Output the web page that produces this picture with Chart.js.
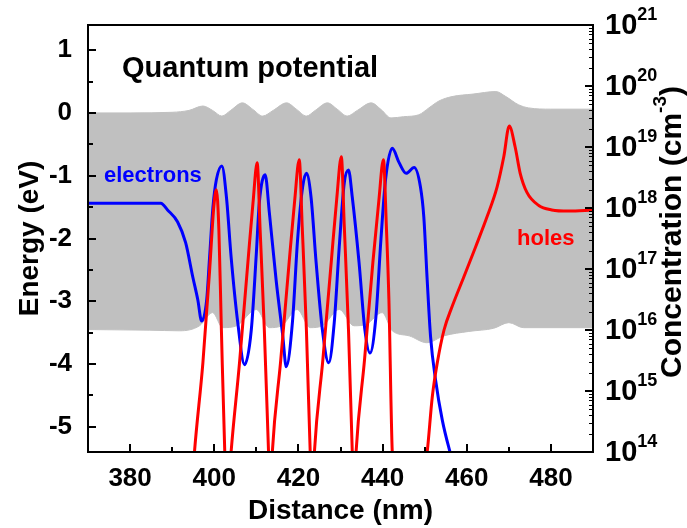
<!DOCTYPE html>
<html lang="en">
<head>
<meta charset="utf-8">
<title>Quantum potential</title>
<script src="https://cdn.jsdelivr.net/npm/chart.js@4.4.1/dist/chart.umd.min.js"></script>
<style>
  html, body { margin: 0; padding: 0; background: #fff; }
  #wrap { width: 687px; height: 528px; }
</style>
</head>
<body>
<div id="wrap"><canvas id="chart" width="687" height="528"></canvas></div>
<script>
// ---------------------------------------------------------------------------
//  Quantum potential band + electron / hole concentration (log, right axis)
// ---------------------------------------------------------------------------

// Gray band: upper and lower edge of the quantum potential (eV)
const bandTopX = [370, 380, 390, 394, 397.3, 399.6, 401.8, 403.9, 406.7, 409.1, 411.5, 414.0,
  417.2, 419.5, 421.9, 424.0, 426.9, 429.2, 431.6, 434.0, 437.3, 439.7, 442.0, 445.0, 448.6,
  451.0, 453.4, 456.5, 461.5, 466.9, 469.3, 472.3, 474.7, 480, 490];
const bandTop = [0.0, 0.0, 0.01, 0.04, 0.11, 0.04, -0.05, 0.04, 0.16, 0.06, -0.05, 0.04,
  0.16, 0.06, -0.05, 0.04, 0.16, 0.06, -0.05, 0.04, 0.16, 0.05, -0.08, -0.06, -0.03,
  0.08, 0.19, 0.26, 0.30, 0.34, 0.26, 0.13, 0.08, 0.06, 0.06];

const bandBotX = [370, 384.7, 391.8, 396.5, 399.6, 402.0, 405.3, 410.0, 413.1, 416.0, 419.7,
  422.8, 425.7, 429.7, 433.2, 436.3, 439.9, 442.3, 446.3, 450.5, 454.6, 460.5, 466.4, 470.0,
  473.5, 490];
const bandBot = [-3.45, -3.46, -3.47, -3.39, -3.18, -3.42, -3.39, -3.13, -3.42, -3.39, -3.13,
  -3.42, -3.39, -3.13, -3.39, -3.36, -3.18, -3.47, -3.55, -3.66, -3.55, -3.48, -3.43, -3.34,
  -3.42, -3.42];

// Electrons (cm^-3)
const electronsX = [370.0, 387.3, 388.9, 391.3, 393.2, 394.9, 396.1, 397.0, 398.2, 398.9,
  399.7, 400.5, 401.8, 402.9, 404.0, 405.6, 407.2, 408.8, 410.0, 410.7, 412.1, 413.1, 414.7,
  416.3, 417.1, 418.6, 419.8, 421.0, 421.9, 423.0, 424.2, 425.7, 427.2, 428.5, 429.7, 430.9,
  431.9, 432.8, 434.4, 435.8, 437.0, 438.4, 439.6, 440.7, 442.3, 443.9, 445.6, 447.5, 449.0,
  449.8, 450.6, 451.4, 452.6, 454.2, 456.1, 458.0];
const electrons = [1.2e18, 1.2e18, 9.3e17, 5.9e17, 2.7e17, 7.4e16, 3.1e16, 1.4e16, 3.1e16, 1.6e17,
  1.05e18, 2.9e18, 4.9e18, 1.5e18, 1.6e17, 1.3e16, 2.7e15, 1.0e16, 1.8e17, 1.2e18, 3.5e18, 8.3e17, 6.6e16,
  7.8e15, 2.5e15, 1.4e16, 3.0e17, 2.2e18, 3.7e18, 1.5e18, 1.3e17, 1.0e16, 2.9e15, 1.3e16, 2.3e17, 2.6e18,
  4.2e18, 1.5e18, 1.3e17, 1.0e16, 4.2e15, 1.6e16, 3.0e17, 2.9e18, 9.5e18, 5.6e18, 3.7e18, 4.6e18, 2.2e18,
  7.1e17, 6.6e16, 7.8e15, 1.5e15, 3.3e14, 9.5e13, 3.2e13];

// Holes (cm^-3)
const holesX = [394.3, 395.3, 397.3, 398.9, 399.9, 400.5, 401.1, 401.7, 402.5, 403.2,
  404.0, 406.0, 408.0, 409.2, 410.2, 410.9, 411.9, 412.9, 413.3,
  413.8, 415.8, 417.8, 419.1, 420.2, 420.9, 421.9, 422.8, 423.3,
  423.8, 425.8, 427.8, 429.1, 430.2, 430.9, 431.9, 432.8, 433.2,
  433.7, 435.7, 437.7, 439.1, 440.2, 440.9, 441.5, 442.3, 446.0,
  450.6, 451.8, 453.0, 454.6, 456.5, 459.3, 462.1, 464.8, 467.2, 468.8, 470.1, 471.5, 472.7,
  474.3, 477.1, 480.2, 484.2, 490.0];
const holes = [1e13, 1e14, 2.9e15, 9.5e16, 1.05e18, 2.0e18, 4.4e17, 1e16, 1e14, 1.6e13,
  1e14, 2.9e15, 1.3e17, 1.2e18, 5.5e18, 4.4e17, 1e16, 1e14, 1.6e13,
  1e14, 3.2e15, 1.3e17, 1.3e18, 6.2e18, 5.0e17, 1e16, 1e14, 1.6e13,
  1e14, 3.2e15, 1.3e17, 1.4e18, 6.9e18, 5.0e17, 1e16, 1e14, 1.6e13,
  1e14, 3.2e15, 1.3e17, 1.3e18, 6.2e18, 5.0e17, 3.2e16, 1e14, 1e12,
  1e14, 7.9e14, 2.9e15, 1e16, 2.4e16, 7.4e16, 2.3e17, 7.1e17, 2.2e18, 6.9e18, 2.2e19, 1e19, 3.7e18,
  1.8e18, 1.1e18, 9.3e17, 8.9e17, 9.3e17];

// Ticks
const xMajor = [380, 400, 420, 440, 460, 480];
const xMinor = [390, 410, 430, 450, 470];
const yMajor = [-5, -4, -3, -2, -1, 0, 1];
const yMinor = [-4.5, -3.5, -2.5, -1.5, -0.5, 0.5];
const concExp = [14, 15, 16, 17, 18, 19, 20, 21];

const FONT = "'Liberation Sans', Arial, Helvetica, sans-serif";

function pairs(xs, ys) {
  return xs.map((x, i) => ({ x, y: ys[i] }));
}

function seg(ctx, x1, y1, x2, y2) {
  ctx.beginPath();
  ctx.moveTo(x1, y1);
  ctx.lineTo(x2, y2);
  ctx.stroke();
}

// Frame, inward ticks, right-axis labels, titles and annotations.
const decor = {
  id: 'decor',
  afterDatasetsDraw(chart) {
    const { ctx, chartArea: a, scales } = chart;
    const sx = scales.x, sy = scales.y, sc = scales.c;
    ctx.save();
    ctx.strokeStyle = '#000';
    ctx.lineWidth = 2;

    xMajor.forEach((v) => { const p = Math.round(sx.getPixelForValue(v)); seg(ctx, p, a.bottom, p, a.bottom - 8); });
    xMinor.forEach((v) => { const p = Math.round(sx.getPixelForValue(v)); seg(ctx, p, a.bottom, p, a.bottom - 5); });
    yMajor.forEach((v) => { const p = Math.round(sy.getPixelForValue(v)); seg(ctx, a.left, p, a.left + 8, p); });
    yMinor.forEach((v) => { const p = Math.round(sy.getPixelForValue(v)); seg(ctx, a.left, p, a.left + 5, p); });

    concExp.forEach((e) => {
      const p = Math.round(sc.getPixelForValue(Math.pow(10, e)));
      ctx.lineWidth = 2;
      seg(ctx, a.right, p, a.right - 8, p);
      if (e === 21) return;
      ctx.lineWidth = 1;
      for (let m = 2; m <= 9; m++) {
        const q = Math.round(sc.getPixelForValue(m * Math.pow(10, e))) + 0.5;
        seg(ctx, a.right, q, a.right - 4, q);
      }
    });

    ctx.lineWidth = 2;
    ctx.strokeRect(a.left, a.top, a.right - a.left, a.bottom - a.top);

    // right axis labels 10^n
    ctx.fillStyle = '#000';
    ctx.textAlign = 'left';
    ctx.textBaseline = 'middle';
    concExp.forEach((e) => {
      const p = sc.getPixelForValue(Math.pow(10, e));
      ctx.font = `bold 29px ${FONT}`;
      ctx.fillText('10', a.right + 12, p + 1);
      const w = ctx.measureText('10').width;
      ctx.font = `bold 18px ${FONT}`;
      ctx.fillText(String(e), a.right + 12 + w, p - 10);
    });

    // axis titles
    ctx.font = `bold 28px ${FONT}`;
    ctx.textAlign = 'center';
    ctx.fillText('Distance (nm)', (a.left + a.right) / 2, 511);

    ctx.save();
    ctx.translate(30, (a.top + a.bottom) / 2);
    ctx.rotate(-Math.PI / 2);
    ctx.fillText('Energy (eV)', 0, 0);
    ctx.restore();

    ctx.save();
    ctx.translate(673, 232);
    ctx.rotate(-Math.PI / 2);
    ctx.textAlign = 'left';
    ctx.font = `bold 30px ${FONT}`;
    const t1 = 'Concentration (cm';
    const w1 = ctx.measureText(t1).width;
    const w3 = ctx.measureText(')').width;
    ctx.font = `bold 19px ${FONT}`;
    const w2 = ctx.measureText('-3').width;
    const x0 = -(w1 + w2 + w3) / 2;
    ctx.font = `bold 30px ${FONT}`;
    ctx.fillText(t1, x0, 0);
    ctx.font = `bold 19px ${FONT}`;
    ctx.fillText('-3', x0 + w1, -12);
    ctx.font = `bold 30px ${FONT}`;
    ctx.fillText(')', x0 + w1 + w2, 0);
    ctx.restore();

    // annotations
    ctx.textAlign = 'left';
    ctx.textBaseline = 'alphabetic';
    ctx.font = `bold 29px ${FONT}`;
    ctx.fillStyle = '#000';
    ctx.fillText('Quantum potential', 122, 77);
    ctx.font = `bold 22px ${FONT}`;
    ctx.fillStyle = '#0000ff';
    ctx.fillText('electrons', 104, 182);
    ctx.fillStyle = '#ff0000';
    ctx.fillText('holes', 517, 245);
    ctx.restore();
  },
};

new Chart(document.getElementById('chart'), {
  type: 'line',
  data: {
    datasets: [
      {
        label: 'holes', data: pairs(holesX, holes), yAxisID: 'c',
        borderColor: '#ff0000', borderWidth: 3, pointRadius: 0,
        cubicInterpolationMode: 'monotone', fill: false,
      },
      {
        label: 'electrons', data: pairs(electronsX, electrons), yAxisID: 'c',
        borderColor: '#0000ff', borderWidth: 3, pointRadius: 0,
        cubicInterpolationMode: 'monotone', fill: false,
      },
      {
        label: 'band top', data: pairs(bandTopX, bandTop), yAxisID: 'y',
        borderColor: '#c0c0c0', borderWidth: 1, backgroundColor: '#c0c0c0', pointRadius: 0,
        cubicInterpolationMode: 'monotone', fill: '+1',
      },
      {
        label: 'band bottom', data: pairs(bandBotX, bandBot), yAxisID: 'y',
        borderColor: '#c0c0c0', borderWidth: 1, pointRadius: 0,
        cubicInterpolationMode: 'monotone', fill: false,
      },
    ],
  },
  options: {
    responsive: false,
    animation: false,
    devicePixelRatio: 1,
    events: [],
    layout: { padding: { top: 25, left: 0, right: 0, bottom: 0 } },
    plugins: { legend: { display: false }, tooltip: { enabled: false } },
    scales: {
      x: {
        type: 'linear', min: 370, max: 490,
        grid: { display: false }, border: { display: false },
        afterBuildTicks: (s) => { s.ticks = xMajor.map((v) => ({ value: v })); },
        afterFit: (s) => { s.height = 76; },
        ticks: {
          color: '#000', padding: 3, maxRotation: 0,
          font: { family: FONT, size: 26, weight: 'bold' },
          callback: (v) => String(v),
        },
      },
      y: {
        type: 'linear', position: 'left', min: -5.4, max: 1.4,
        grid: { display: false }, border: { display: false },
        afterBuildTicks: (s) => { s.ticks = yMajor.map((v) => ({ value: v })); },
        afterFit: (s) => { s.width = 88; },
        ticks: {
          color: '#000', padding: 8,
          font: { family: FONT, size: 26, weight: 'bold' },
          callback: (v) => String(v),
        },
      },
      c: {
        type: 'logarithmic', position: 'right', min: 1e14, max: 1e21,
        grid: { display: false }, border: { display: false },
        ticks: { display: false },
        afterFit: (s) => { s.width = 94; },
      },
    },
  },
  plugins: [decor],
});
</script>
</body>
</html>
